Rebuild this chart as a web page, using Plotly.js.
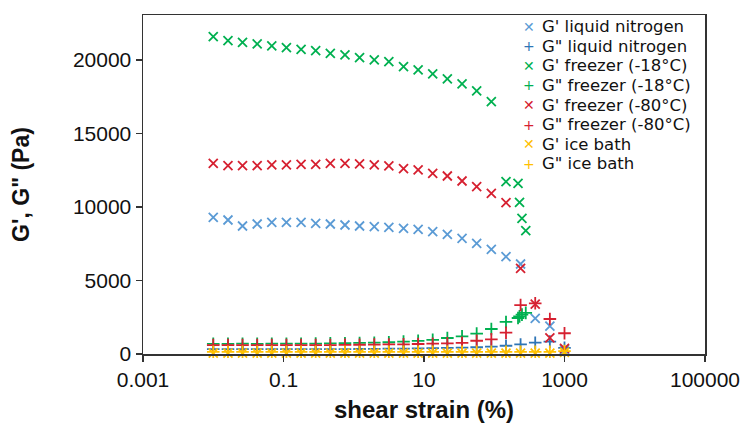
<!DOCTYPE html>
<html>
<head>
<meta charset="utf-8">
<script src="https://cdn.plot.ly/plotly-3.0.1.min.js"></script>
<style>
html,body{margin:0;padding:0;background:#fff;}
#chart{width:748px;height:426px;}
</style>
</head>
<body>
<div id="chart"></div>
<script>
// Shear strain (%) of the standard amplitude sweep
const strain = [0.01, 0.0162, 0.0261, 0.0422, 0.0681, 0.110, 0.178, 0.287, 0.464, 0.750,
  1.21, 1.96, 3.16, 5.11, 8.25, 13.3, 21.5, 34.8, 56.2, 90.9, 147, 237, 383, 619, 1000];
// freezer (-18°C) sweep has extra points near the end
const strainFreezer18 = [0.01, 0.0162, 0.0261, 0.0422, 0.0681, 0.110, 0.178, 0.287, 0.464, 0.750,
  1.21, 1.96, 3.16, 5.11, 8.25, 13.3, 21.5, 34.8, 56.2, 90.9, 147, 218, 229, 248, 281];

const gp_liquidN2 = [9300, 9116, 8708, 8844, 8960, 8960, 8960, 8892, 8844, 8776,
  8708, 8660, 8619, 8551, 8483, 8320, 8143, 7871, 7531, 7123, 6619, 6123, 2427, 1900, 300];
const gpp_liquidN2 = [330, 330, 330, 330, 330, 330, 330, 330, 330, 330,
  340, 350, 360, 370, 380, 400, 420, 440, 460, 500, 560, 650, 770, 840, 420];

const gp_freezer18 = [21586, 21314, 21205, 21089, 20953, 20838, 20729, 20634, 20457, 20341,
  20157, 20001, 19885, 19545, 19320, 19048, 18708, 18368, 17892, 17164, 11722, 11613, 10320, 9232, 8388];
const gpp_freezer18 = [690, 690, 700, 690, 700, 700, 700, 710, 720, 730,
  750, 770, 800, 840, 890, 960, 1090, 1200, 1390, 1700, 2180, 2450, 2560, 2680, 2800];

const gp_freezer80 = [12973, 12810, 12810, 12810, 12858, 12858, 12905, 12905, 12973, 12973,
  12926, 12858, 12790, 12606, 12518, 12293, 12109, 11769, 11381, 10933, 10293, 5830, 3400, 1100, 390];
const gpp_freezer80 = [610, 610, 610, 610, 610, 610, 610, 610, 610, 620,
  630, 640, 650, 660, 680, 700, 720, 760, 900, 1000, 1450, 3330, 3450, 2380, 1410];

const gp_iceBath = [60, 60, 60, 60, 60, 60, 60, 60, 60, 60,
  60, 60, 60, 60, 60, 60, 60, 60, 60, 60, 60, 60, 60, 60, 120];
const gpp_iceBath = [150, 150, 150, 150, 150, 150, 150, 150, 150, 150,
  150, 150, 150, 150, 150, 150, 150, 150, 150, 150, 150, 150, 150, 150, 200];

const seriesNames = ["G' liquid nitrogen", 'G" liquid nitrogen', "G' freezer (-18°C)", 'G" freezer (-18°C)',
  "G' freezer (-80°C)", 'G" freezer (-80°C)', "G' ice bath", 'G" ice bath'];
const seriesColors = ['#5B9BD5', '#2E75B6', '#00B050', '#00B050', '#D62030', '#D62030', '#FFC000', '#FFC000'];
const seriesX = [strain, strain, strainFreezer18, strainFreezer18, strain, strain, strain, strain];
const seriesY = [gp_liquidN2, gpp_liquidN2, gp_freezer18, gpp_freezer18, gp_freezer80, gpp_freezer80, gp_iceBath, gpp_iceBath];
const seriesSymbols = ['x-thin', 'cross-thin', 'x-thin', 'cross-thin', 'x-thin', 'cross-thin', 'x-thin', 'cross-thin'];
const legendGlyphs = ['✕', '+', '✕', '+', '✕', '+', '✕', '+'];

const xTickVals = [0.001, 0.1, 10, 1000, 100000];
const xTickText = ['0.001', '0.1', '10', '1000', '100000'];
const yTickVals = [0, 5000, 10000, 15000, 20000];
const yTickText = ['0', '5000', '10000', '15000', '20000'];

const traces = seriesNames.map((name, k) => ({
  type: 'scatter', mode: 'markers', name: name,
  x: seriesX[k], y: seriesY[k],
  marker: {symbol: seriesSymbols[k], size: 9, color: seriesColors[k],
    line: {color: seriesColors[k], width: 1.8}},
  showlegend: false, cliponaxis: false
}));

const FONT = 'Liberation Sans, Arial, sans-serif';
const LEGEND_FONT = 'DejaVu Sans, Liberation Sans, sans-serif';
const annotations = [];
seriesNames.forEach((name, k) => {
  const yPos = 0.9655 - k * 0.0578;
  annotations.push({xref: 'paper', yref: 'paper', x: 0.686, y: yPos, xanchor: 'center', yanchor: 'middle',
    text: legendGlyphs[k], showarrow: false, borderpad: 0,
    font: {family: LEGEND_FONT, size: 14, color: seriesColors[k]}});
  annotations.push({xref: 'paper', yref: 'paper', x: 0.708, y: yPos, xanchor: 'left', yanchor: 'middle',
    text: name, showarrow: false, borderpad: 0, align: 'left',
    font: {family: LEGEND_FONT, size: 16.5, color: '#111111'}});
});

const layout = {
  width: 748, height: 426,
  margin: {l: 143, r: 43, t: 15, b: 72, pad: 0},
  paper_bgcolor: '#ffffff', plot_bgcolor: '#ffffff',
  font: {family: FONT, size: 20, color: '#111111'},
  showlegend: false,
  xaxis: {
    type: 'log', range: [-3, 5],
    tickmode: 'array', tickvals: xTickVals, ticktext: xTickText,
    ticks: 'outside', ticklen: 6, tickwidth: 1.5, tickcolor: '#333',
    showline: true, linecolor: '#333', linewidth: 1.5, mirror: true,
    showgrid: false, zeroline: false,
    tickfont: {family: FONT, size: 21, color: '#111111'},
    title: {text: '<b>shear strain (%)</b>', standoff: 11, font: {family: FONT, size: 24, color: '#111111'}}
  },
  yaxis: {
    range: [0, 23060],
    tickmode: 'array', tickvals: yTickVals, ticktext: yTickText,
    ticks: 'outside', ticklen: 6, tickwidth: 1.5, tickcolor: '#333',
    showline: true, linecolor: '#333', linewidth: 1.5, mirror: true,
    showgrid: false, zeroline: false,
    tickfont: {family: FONT, size: 21, color: '#111111'},
    title: {text: '<b>G\', G" (Pa)</b>', standoff: 37, font: {family: FONT, size: 23, color: '#111111'}}
  },
  annotations: annotations
};

Plotly.newPlot('chart', traces, layout, {displayModeBar: false, staticPlot: true});
</script>
</body>
</html>
